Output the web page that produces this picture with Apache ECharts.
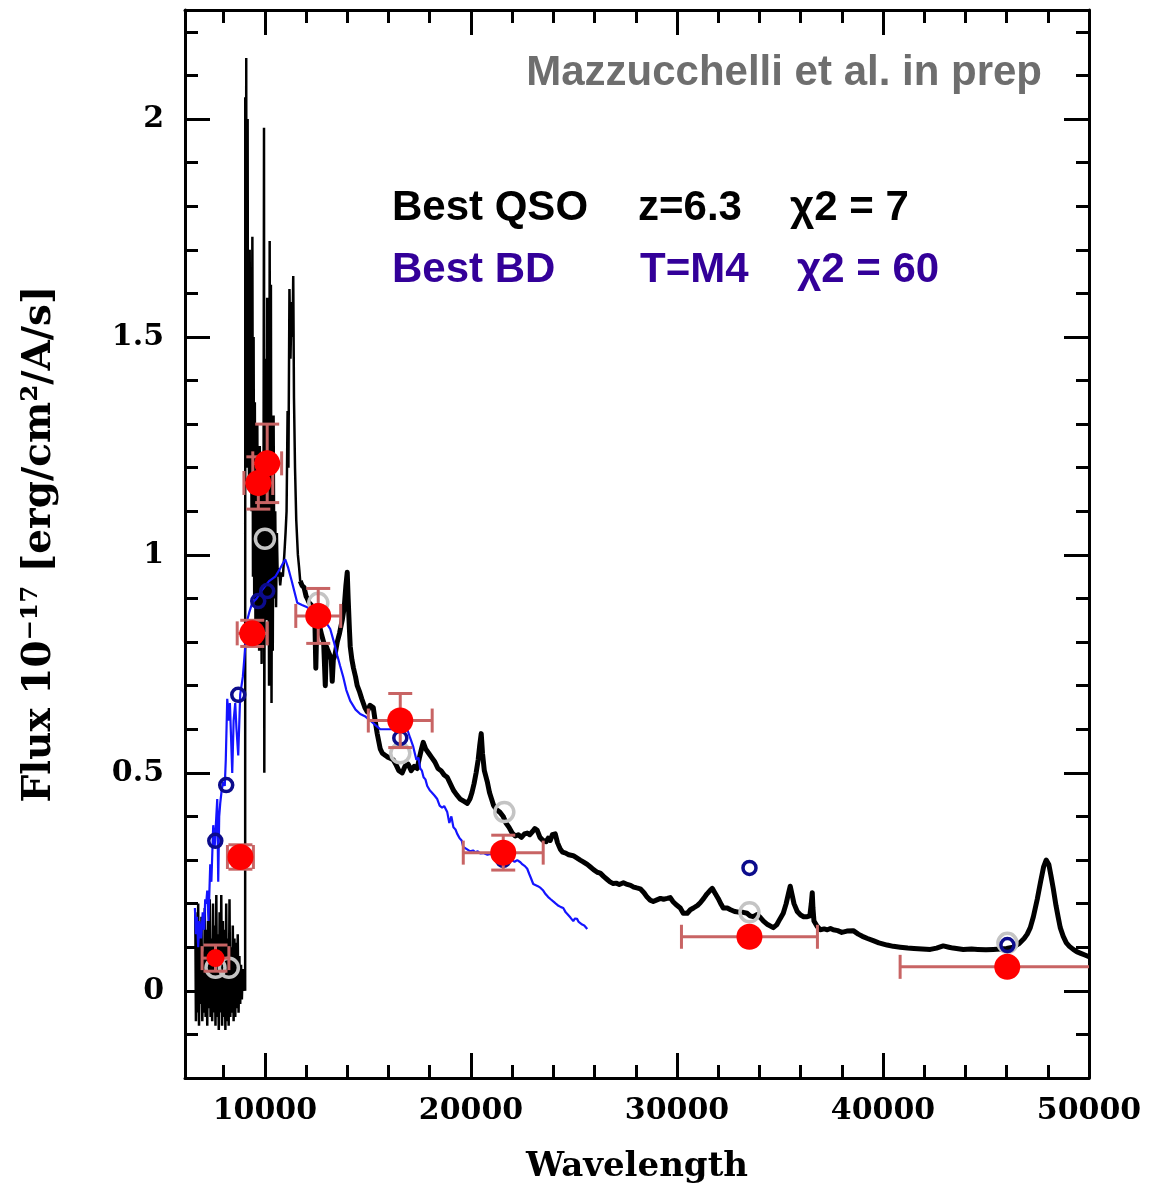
<!DOCTYPE html>
<html>
<head>
<meta charset="utf-8">
<script src="https://cdn.jsdelivr.net/npm/echarts@6/dist/echarts.min.js"></script>
<style>html,body{margin:0;padding:0;background:#fff;}#c{width:1166px;height:1191px;}</style>
</head>
<body>
<div id="c"></div>
<script>
// ---- tick values ----
const xMajor = [10000, 20000, 30000, 40000, 50000];
const xMinor = [8000, 10000, 12000, 14000, 16000, 18000, 20000, 22000, 24000, 26000, 28000, 30000, 32000, 34000, 36000, 38000, 40000, 42000, 44000, 46000, 48000];
const yMajor = [0, 0.5, 1, 1.5, 2];
const yMinor = [-0.1, 0, 0.1, 0.2, 0.3, 0.4, 0.5, 0.6, 0.7, 0.8, 0.9, 1, 1.1, 1.2, 1.3, 1.4, 1.5, 1.6, 1.7, 1.8, 1.9, 2, 2.1, 2.2];

// ---- QSO spectrum, optical (noisy + spiky part) ----
const qsoOptical = [
[6620,0.18],[6650,-0.07],[6690,0.15],[6720,-0.05],[6760,0.2],[6800,-0.08],[6840,0.12],[6880,-0.03],[6920,0.17],[6960,-0.07],
[7000,0.09],[7040,-0.05],[7080,0.19],[7120,-0.06],[7160,0.14],[7200,-0.08],[7240,0.16],[7280,-0.04],[7320,0.21],[7360,-0.06],
[7400,0.12],[7440,-0.07],[7480,0.2],[7520,-0.05],[7560,0.15],[7600,-0.08],[7640,0.22],[7680,-0.06],[7720,0.13],[7760,-0.09],
[7800,0.18],[7840,-0.05],[7880,0.22],[7920,-0.08],[7960,0.16],[8000,-0.06],[8040,0.14],[8080,-0.09],[8120,0.2],[8160,-0.07],
[8200,0.12],[8240,-0.08],[8280,0.21],[8320,-0.06],[8360,0.1],[8400,-0.05],[8440,0.15],[8480,-0.07],[8520,0.12],[8560,-0.06],
[8600,0.11],[8640,-0.04],[8680,0.13],[8720,-0.05],[8760,0.08],[8800,-0.03],[8840,0.06],[8880,-0.02],[8920,0.05],[8960,0.0],
[9000,0.03],[9040,0.0],[9046,2.05],[9060,1.2],[9075,1.72],[9085,1.3],[9092,2.14],[9105,1.25],[9120,1.75],[9140,1.3],
[9160,2.0],[9180,1.2],[9200,1.5],[9230,1.15],[9260,1.7],[9290,1.2],[9320,1.45],[9350,1.1],[9390,1.73],[9420,0.95],
[9450,1.5],[9480,0.9],[9510,1.35],[9540,0.85],[9570,1.2],[9600,0.8],[9630,1.3],[9660,0.85],[9690,1.15],[9720,0.78],
[9750,1.25],[9780,0.85],[9810,1.1],[9840,0.75],[9870,1.2],[9900,0.8],[9930,1.05],[9955,1.98],[9970,0.5],[9990,1.2],
[10020,0.85],[10050,1.45],[10080,0.9],[10110,1.59],[10140,0.85],[10170,1.3],[10200,0.7],[10230,1.72],[10260,0.9],[10290,1.62],
[10320,0.66],[10350,1.3],[10380,0.78],[10420,1.32],[10460,0.9],[10500,1.1],[10540,0.88],[10580,1.05],[10620,0.95],[10680,0.97],
[10740,0.93],[10800,0.96],[10870,0.95],[10940,1.0],[11000,1.05],[11050,1.1],[11100,1.33],[11140,1.2],[11190,1.61],[11240,1.45],
[11290,1.58],[11340,1.5],[11374,1.64],[11410,1.36],[11460,1.2],[11520,1.08],[11600,1.0],[11660,0.97],[11713,0.94]
];

// ---- QSO spectrum, near-IR continuum ----
const qsoNIR = [
[11713,0.94],[11800,0.93],[11900,0.925],[12000,0.905],[12053,0.90],[12150,0.89],[12250,0.885],[12345,0.87],[12420,0.86],[12470,0.74],
[12520,0.85],[12600,0.84],[12684,0.83],[12760,0.815],[12850,0.80],[12930,0.70],[12980,0.79],[13060,0.78],[13150,0.77],[13220,0.76],
[13267,0.71],[13320,0.76],[13400,0.77],[13509,0.80],[13620,0.82],[13750,0.85],[13850,0.88],[13930,0.93],[13995,0.96],[14040,0.90],
[14100,0.83],[14140,0.79],[14220,0.76],[14300,0.74],[14400,0.72],[14480,0.70],[14600,0.685],[14700,0.67],[14850,0.65],[14966,0.64],
[15100,0.655],[15257,0.65],[15350,0.62],[15450,0.59],[15597,0.555],[15700,0.545],[15850,0.54],[16000,0.535],[16228,0.53],[16350,0.52],
[16500,0.505],[16664,0.50],[16800,0.515],[16950,0.52],[17100,0.505],[17250,0.515],[17392,0.51],[17500,0.535],[17600,0.555],[17684,0.57],
[17800,0.555],[17950,0.545],[18100,0.535],[18250,0.525],[18400,0.51],[18550,0.505],[18700,0.495],[18849,0.49],[19000,0.475],[19150,0.46],
[19300,0.45],[19480,0.44],[19650,0.435],[19820,0.43],[19950,0.44],[20050,0.455],[20150,0.475],[20250,0.50],[20350,0.53],[20430,0.565],
[20499,0.59],[20560,0.545],[20650,0.505],[20791,0.48],[20900,0.455],[21000,0.44],[21100,0.425],[21250,0.415],[21400,0.41],[21567,0.40],
[21700,0.385],[21850,0.375],[22000,0.362],[22150,0.355],[22300,0.358],[22450,0.352],[22600,0.36],[22732,0.362],[22850,0.358],[23000,0.366],
[23100,0.372],[23218,0.368],[23350,0.352],[23500,0.345],[23650,0.342],[23750,0.35],[23850,0.345],[23950,0.358],[24092,0.36],[24200,0.34],
[24335,0.325],[24450,0.318],[24600,0.316],[24750,0.312],[24966,0.31],[25100,0.306],[25305,0.30],[25450,0.296],[25645,0.29],[25800,0.284],
[25950,0.278],[26131,0.272],[26276,0.27],[26450,0.262],[26600,0.256],[26750,0.25],[26907,0.246],[27050,0.247],[27200,0.244],[27400,0.248],
[27587,0.244],[27750,0.242],[27900,0.238],[28050,0.236],[28218,0.234],[28400,0.225],[28550,0.215],[28700,0.208],[28849,0.205],[29000,0.208],
[29200,0.212],[29350,0.21],[29528,0.212],[29674,0.214],[29800,0.205],[29950,0.198],[30160,0.19],[30305,0.178],[30400,0.174],[30500,0.178],
[30650,0.186],[30800,0.19],[31000,0.196],[31131,0.202],[31300,0.212],[31450,0.222],[31600,0.23],[31713,0.235],[31850,0.224],[32000,0.212],
[32150,0.198],[32247,0.19],[32441,0.19],[32600,0.186],[32800,0.182],[33072,0.18],[33218,0.18],[33400,0.178],[33550,0.172],[33703,0.17],
[33897,0.175],[34050,0.168],[34200,0.16],[34400,0.152],[34674,0.145],[34850,0.152],[35000,0.165],[35159,0.178],[35300,0.2],[35420,0.225],
[35499,0.24],[35580,0.222],[35680,0.2],[35839,0.182],[36000,0.174],[36150,0.17],[36324,0.17],[36450,0.172],[36520,0.2],[36567,0.225],
[36600,0.19],[36650,0.16],[36800,0.148],[36955,0.14],[37150,0.142],[37300,0.14],[37450,0.143],[37586,0.14],[37800,0.138],[38000,0.134],
[38250,0.137],[38557,0.138],[38800,0.13],[39000,0.125],[39250,0.12],[39528,0.115],[39800,0.11],[40200,0.105],[40500,0.102],[40838,0.10],
[41200,0.098],[41500,0.097],[41900,0.096],[42294,0.095],[42600,0.098],[42925,0.103],[43200,0.1],[43400,0.098],[43896,0.095],[44300,0.096],
[44600,0.095],[45000,0.094],[45352,0.095],[45700,0.096],[46000,0.097],[46323,0.10],[46600,0.108],[46850,0.12],[47002,0.13],[47150,0.145],
[47300,0.17],[47488,0.21],[47650,0.25],[47800,0.285],[47925,0.30],[48050,0.29],[48150,0.265],[48264,0.235],[48400,0.195],[48500,0.17],
[48604,0.145],[48750,0.125],[48900,0.11],[49050,0.102],[49235,0.095],[49400,0.09],[49600,0.086],[49800,0.082],[50000,0.078]
];

// ---- Brown dwarf (M4) template ----
const bdSpec = [
[6600,0.19],[6650,0.13],[6700,0.17],[6760,0.1],[6820,0.16],[6900,0.12],[6980,0.18],[7050,0.14],[7100,0.21],[7150,0.20],
[7199,0.23],[7260,0.16],[7345,0.29],[7400,0.25],[7490,0.38],[7560,0.33],[7685,0.44],[7733,0.25],[7780,0.40],[7830,0.43],
[7900,0.46],[7976,0.48],[8050,0.47],[8100,0.53],[8170,0.67],[8250,0.62],[8300,0.66],[8413,0.50],[8480,0.62],[8558,0.66],
[8620,0.60],[8704,0.54],[8800,0.68],[8927,0.72],[9030,0.78],[9141,0.85],[9250,0.87],[9384,0.89],[9600,0.90],[9869,0.92],
[10200,0.94],[10500,0.95],[10750,0.97],[10985,0.99],[11082,0.99],[11131,0.97],[11300,0.94],[11568,0.89],[11800,0.885],[12053,0.88],
[12400,0.87],[12684,0.865],[12900,0.85],[13170,0.83],[13350,0.80],[13509,0.77],[13650,0.745],[13801,0.72],[13950,0.69],[14140,0.665],
[14400,0.645],[14626,0.635],[14850,0.63],[15111,0.62],[15350,0.61],[15597,0.60],[15900,0.60],[16228,0.60],[16600,0.60],[16907,0.60],
[17050,0.58],[17198,0.56],[17350,0.53],[17450,0.535],[17538,0.51],[17620,0.505],[17700,0.49],[17790,0.485],[17878,0.47],[18000,0.46],
[18100,0.455],[18230,0.448],[18363,0.44],[18480,0.425],[18600,0.42],[18700,0.424],[18849,0.41],[18950,0.385],[19050,0.40],[19150,0.375],
[19250,0.37],[19334,0.36],[19450,0.35],[19550,0.345],[19625,0.33],[19720,0.328],[19800,0.325],[19965,0.32],[20100,0.322],[20200,0.318],
[20330,0.32],[20451,0.315],[20600,0.316],[20800,0.312],[20950,0.314],[21082,0.31],[21250,0.31],[21400,0.305],[21600,0.304],[21762,0.30],
[21900,0.302],[22000,0.30],[22120,0.296],[22247,0.30],[22400,0.295],[22500,0.29],[22620,0.286],[22732,0.28],[22830,0.268],[22900,0.26],
[23023,0.245],[23120,0.246],[23250,0.24],[23380,0.236],[23509,0.23],[23620,0.222],[23750,0.215],[23870,0.21],[23994,0.205],[24120,0.2],
[24250,0.195],[24370,0.192],[24480,0.19],[24600,0.18],[24700,0.175],[24830,0.168],[24966,0.16],[25050,0.166],[25150,0.165],[25230,0.158],
[25305,0.16],[25400,0.152],[25500,0.15],[25580,0.152],[25645,0.142]
];

// ---- photometry ----
const photWave  = [7600, 8810, 9384, 9680, 10110, 12587, 16568, 21567, 33518, 46032];
const photFlux  = [0.075, 0.307, 0.82, 1.165, 1.21, 0.86, 0.62, 0.317, 0.124, 0.055];
const photXerr  = [650, 630, 730, 700, 700, 1090, 1550, 1940, 3300, 5200];
const photYerr  = [0.03, 0.028, 0.03, 0.06, 0.09, 0.063, 0.062, 0.04, 0, 0];

const qsoModelWave = [7600, 8250, 10000, 12590, 16570, 21620, 33520, 46040];
const qsoModelFlux = [0.053, 0.053, 1.037, 0.89, 0.545, 0.41, 0.18, 0.11];

const bdModelWave = [7590, 8120, 8705, 9675, 10110, 12590, 16570, 21570, 33520, 46040];
const bdModelFlux = [0.344, 0.472, 0.679, 0.894, 0.917, 0.87, 0.58, 0.30, 0.282, 0.105];

const photData = photWave.map((w, i) => [w, photFlux[i], w - photXerr[i], w + photXerr[i], photFlux[i] - photYerr[i], photFlux[i] + photYerr[i]]);
const qsoModel = qsoModelWave.map((w, i) => [w, qsoModelFlux[i]]);
const bdModel = bdModelWave.map((w, i) => [w, bdModelFlux[i]]);

const X_MIN = 6120, X_MAX = 50000, Y_MIN = -0.2, Y_MAX = 2.25;
const serif = '"DejaVu Serif", serif';
const sans = '"Liberation Sans", Arial, sans-serif';

function xAxisDef(pos, major) {
  return {
    type: 'value', min: X_MIN, max: X_MAX, position: pos,
    axisLine: { show: major, onZero: false, lineStyle: { color: '#000', width: 3 } },
    axisTick: { show: true, inside: true, length: major ? 25 : 13, customValues: major ? xMajor : xMinor, lineStyle: { color: '#000', width: 3 } },
    axisLabel: { show: major && pos === 'bottom', customValues: xMajor, formatter: v => String(v), fontFamily: serif, fontSize: 30, fontWeight: 'bold', color: '#000', margin: 18 },
    splitLine: { show: false },
    name: (major && pos === 'bottom') ? 'Wavelength' : '',
    nameLocation: 'middle', nameGap: 72,
    nameTextStyle: { fontFamily: serif, fontSize: 34, fontWeight: 'bold', color: '#000' }
  };
}
function yAxisDef(pos, major) {
  return {
    type: 'value', min: Y_MIN, max: Y_MAX, position: pos,
    axisLine: { show: major, onZero: false, lineStyle: { color: '#000', width: 3 } },
    axisTick: { show: true, inside: true, length: major ? 25 : 13, customValues: major ? yMajor : yMinor, lineStyle: { color: '#000', width: 3 } },
    axisLabel: { show: major && pos === 'left', customValues: yMajor, formatter: v => String(v), fontFamily: serif, fontSize: 30, fontWeight: 'bold', color: '#000', margin: 21 },
    splitLine: { show: false },
    name: (major && pos === 'left') ? 'Flux 10⁻¹⁷ [erg/cm²/A/s]' : '',
    nameLocation: 'middle', nameGap: 126, nameRotate: 90,
    nameTextStyle: { fontFamily: serif, fontSize: 39, fontWeight: 'bold', color: '#000' }
  };
}

const chart = echarts.init(document.getElementById('c'), null, { renderer: 'canvas' });
chart.setOption({
  backgroundColor: '#fff',
  animation: false,
  grid: { left: 185, right: 77, top: 10, bottom: 113, containLabel: false },
  xAxis: [xAxisDef('bottom', true), xAxisDef('bottom', false), xAxisDef('top', true), xAxisDef('top', false)],
  yAxis: [yAxisDef('left', true), yAxisDef('left', false), yAxisDef('right', true), yAxisDef('right', false)],
  series: [
    { name: 'QSO optical', type: 'line', data: qsoOptical, showSymbol: false, symbol: 'none', z: 2,
      lineStyle: { color: '#000', width: 2.5 }, clip: true },
    { name: 'QSO NIR', type: 'line', data: qsoNIR, showSymbol: false, symbol: 'none', z: 2,
      lineStyle: { color: '#000', width: 5, join: 'round' }, clip: true },
    { name: 'BD', type: 'line', data: bdSpec, showSymbol: false, symbol: 'none', z: 3,
      lineStyle: { color: '#1414ff', width: 2.2 }, clip: true },
    { name: 'QSO model phot', type: 'scatter', data: qsoModel, symbol: 'circle', symbolSize: 19, z: 4,
      itemStyle: { color: 'rgba(0,0,0,0)', borderColor: '#c4c4c4', borderWidth: 3.5, opacity: 1 } },
    { name: 'BD model phot', type: 'scatter', data: bdModel, symbol: 'circle', symbolSize: 13, z: 5,
      itemStyle: { color: 'rgba(0,0,0,0)', borderColor: '#0c0c8c', borderWidth: 3.5, opacity: 1 } },
    { name: 'errors', type: 'custom', data: photData, z: 6, clip: true,
      encode: { x: [0, 2, 3], y: [1, 4, 5] },
      renderItem: function (params, api) {
        const x = api.value(0), y = api.value(1);
        const pl = api.coord([api.value(2), y]);
        const pr = api.coord([api.value(3), y]);
        const pb = api.coord([x, api.value(4)]);
        const pt = api.coord([x, api.value(5)]);
        const c = 12;
        const st = { stroke: '#c86464', lineWidth: 3, fill: null };
        const ch = [
          { type: 'line', shape: { x1: pl[0], y1: pl[1], x2: pr[0], y2: pr[1] }, style: st },
          { type: 'line', shape: { x1: pl[0], y1: pl[1] - c, x2: pl[0], y2: pl[1] + c }, style: st },
          { type: 'line', shape: { x1: pr[0], y1: pr[1] - c, x2: pr[0], y2: pr[1] + c }, style: st }
        ];
        if (api.value(5) - api.value(4) > 0) {
          ch.push({ type: 'line', shape: { x1: pb[0], y1: pb[1], x2: pt[0], y2: pt[1] }, style: st });
          ch.push({ type: 'line', shape: { x1: pb[0] - c, y1: pb[1], x2: pb[0] + c, y2: pb[1] }, style: st });
          ch.push({ type: 'line', shape: { x1: pt[0] - c, y1: pt[1], x2: pt[0] + c, y2: pt[1] }, style: st });
        }
        return { type: 'group', children: ch };
      }
    },
    { name: 'photometry', type: 'scatter', data: photData.map(d => [d[0], d[1]]), symbol: 'circle',
      symbolSize: function (v, p) { return p.dataIndex === 0 ? 18 : 26; }, z: 7,
      itemStyle: { color: '#ff0000', opacity: 1 } }
  ],
  graphic: [
    { type: 'text', x: 1042, y: 73, z: 100, style: { text: 'Mazzucchelli et al. in prep', font: 'bold 42px ' + sans, fill: '#6e6e6e', align: 'right', verticalAlign: 'middle' } },
    { type: 'text', x: 392, y: 208, z: 100, style: { text: 'Best QSO', font: 'bold 42px ' + sans, fill: '#000', align: 'left', verticalAlign: 'middle' } },
    { type: 'text', x: 638, y: 208, z: 100, style: { text: 'z=6.3', font: 'bold 42px ' + sans, fill: '#000', align: 'left', verticalAlign: 'middle' } },
    { type: 'text', x: 790, y: 208, z: 100, style: { text: 'χ2 = 7', font: 'bold 42px ' + sans, fill: '#000', align: 'left', verticalAlign: 'middle' } },
    { type: 'text', x: 392, y: 270, z: 100, style: { text: 'Best BD', font: 'bold 42px ' + sans, fill: '#330099', align: 'left', verticalAlign: 'middle' } },
    { type: 'text', x: 640, y: 270, z: 100, style: { text: 'T=M4', font: 'bold 42px ' + sans, fill: '#330099', align: 'left', verticalAlign: 'middle' } },
    { type: 'text', x: 797, y: 270, z: 100, style: { text: 'χ2 = 60', font: 'bold 42px ' + sans, fill: '#330099', align: 'left', verticalAlign: 'middle' } }
  ]
});
</script>
</body>
</html>
